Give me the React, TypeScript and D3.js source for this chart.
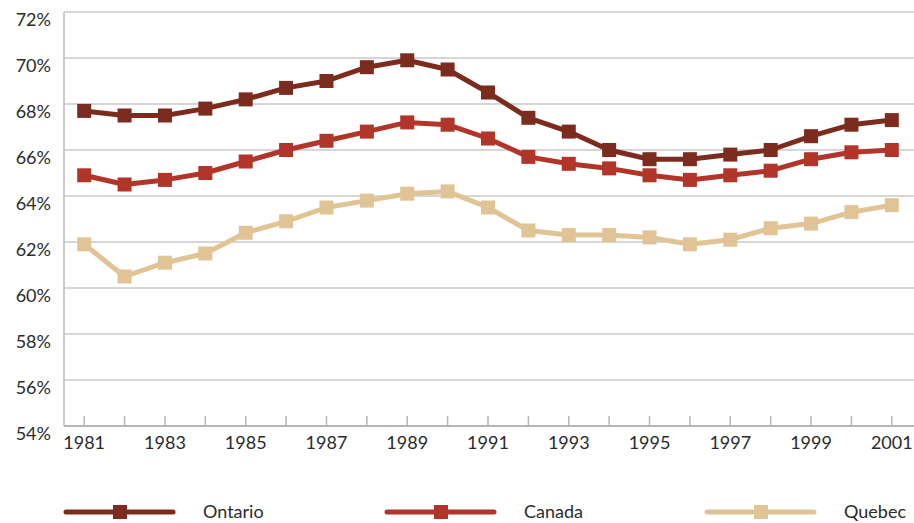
import React from "react";
import * as d3 from "d3";

// participation rate, 1981-2001
const years = d3.range(1981, 2002);
const ontario = [67.7, 67.5, 67.5, 67.8, 68.2, 68.7, 69.0, 69.6, 69.9, 69.5, 68.5, 67.4, 66.8, 66.0, 65.6, 65.6, 65.8, 66.0, 66.6, 67.1, 67.3];
const canada = [64.9, 64.5, 64.7, 65.0, 65.5, 66.0, 66.4, 66.8, 67.2, 67.1, 66.5, 65.7, 65.4, 65.2, 64.9, 64.7, 64.9, 65.1, 65.6, 65.9, 66.0];
const quebec = [61.9, 60.5, 61.1, 61.5, 62.4, 62.9, 63.5, 63.8, 64.1, 64.2, 63.5, 62.5, 62.3, 62.3, 62.2, 61.9, 62.1, 62.6, 62.8, 63.3, 63.6];
const yTicks = [54, 56, 58, 60, 62, 64, 66, 68, 70, 72];
const xLabels = years.filter((y) => y % 2 === 1);

const series = [
  { name: "Ontario", values: ontario, color: "#7c2b1f" },
  { name: "Canada", values: canada, color: "#b2352a" },
  { name: "Quebec", values: quebec, color: "#e1c496" },
];

const W = 914;
const H = 523;
const left = 64;
const right = 912;
const top = 12;
const bottom = 426;
const font = "Lato, 'Open Sans', sans-serif";

export default function App() {
  const x = d3.scalePoint<number>().domain(years).range([left, right]).padding(0.5);
  const y = d3.scaleLinear().domain([54, 72]).range([bottom, top]);
  const line = d3
    .line<number>()
    .x((_, i) => x(years[i]) as number)
    .y((d) => y(d));

  const legendX = [64, 385, 705];

  return (
    <svg width={W} height={H} style={{ position: "absolute", left: 0, top: 0, background: "#fff" }}>
      {/* gridlines */}
      {yTicks.filter((t) => t > 54).map((t) => (
        <line key={t} x1={left} x2={W} y1={y(t)} y2={y(t)} stroke="#c9c9c9" strokeWidth={1.5} />
      ))}
      {/* y labels */}
      {yTicks.map((t) => (
        <text key={"l" + t} x={51} y={y(t) + 14} textAnchor="end" fontFamily={font} fontSize={18} fill="#2b2b2b">
          {t}%
        </text>
      ))}
      {/* axes */}
      <line x1={left} x2={left} y1={top} y2={bottom} stroke="#bdbdbd" strokeWidth={1.5} />
      <line x1={left} x2={W} y1={bottom} y2={bottom} stroke="#b5b5b5" strokeWidth={2} />
      {years.map((yr) => (
        <line key={"t" + yr} x1={x(yr)} x2={x(yr)} y1={bottom - 10} y2={bottom} stroke="#b5b5b5" strokeWidth={1.5} />
      ))}
      {xLabels.map((yr) => (
        <text key={"x" + yr} x={x(yr)} y={449} textAnchor="middle" fontFamily={font} fontSize={18} fill="#2b2b2b">
          {yr}
        </text>
      ))}
      {/* series */}
      {series.map((s) => (
        <g key={s.name}>
          <path d={line(s.values) || ""} fill="none" stroke={s.color} strokeWidth={5} strokeLinejoin="round" />
          {s.values.map((v, i) => (
            <rect key={i} x={(x(years[i]) as number) - 7} y={y(v) - 7} width={14} height={14} fill={s.color} />
          ))}
        </g>
      ))}
      {/* legend */}
      {series.map((s, i) => (
        <g key={"lg" + s.name} transform={`translate(${legendX[i]},512)`}>
          <line x1={2} x2={109} y1={0} y2={0} stroke={s.color} strokeWidth={5} strokeLinecap="round" />
          <rect x={49} y={-7} width={14} height={14} fill={s.color} />
          <text x={139} y={6} fontFamily={font} fontSize={18} fill="#2b2b2b">
            {s.name}
          </text>
        </g>
      ))}
    </svg>
  );
}
